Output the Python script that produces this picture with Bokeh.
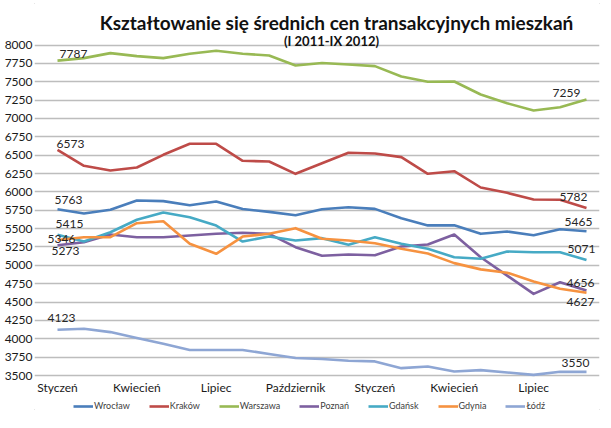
from bokeh.plotting import figure
from bokeh.models import Range1d, FixedTicker, Legend, LegendItem, Label, ColumnDataSource
from bokeh.core.properties import value
from bokeh.embed import file_html
from bokeh.resources import INLINE

# ---- data ----
months = ["Styczeń", "Luty", "Marzec", "Kwiecień", "Maj", "Czerwiec", "Lipiec",
          "Sierpień", "Wrzesień", "Październik", "Listopad", "Grudzień",
          "Styczeń", "Luty", "Marzec", "Kwiecień", "Maj", "Czerwiec", "Lipiec",
          "Sierpień", "Wrzesień"]
label_every = 3

wroclaw = [5763, 5706, 5756, 5883, 5874, 5819, 5869, 5767, 5728, 5683, 5764,
           5791, 5769, 5642, 5544, 5546, 5429, 5460, 5410, 5492, 5465]
krakow = [6573, 6355, 6291, 6332, 6505, 6655, 6655, 6423, 6414, 6246, 6390,
          6532, 6523, 6473, 6246, 6282, 6060, 5987, 5896, 5892, 5782]
warszawa = [7787, 7821, 7889, 7848, 7821, 7880, 7921, 7880, 7857, 7721, 7755,
            7734, 7712, 7571, 7499, 7503, 7326, 7207, 7108, 7153, 7259]
poznan = [5273, 5315, 5420, 5383, 5383, 5406, 5429, 5443, 5429, 5247, 5130,
          5147, 5138, 5256, 5284, 5420, 5110, 4860, 4612, 4770, 4656]
gdansk = [5415, 5324, 5451, 5620, 5719, 5655, 5542, 5324, 5392, 5338, 5370,
          5279, 5383, 5293, 5225, 5111, 5089, 5188, 5179, 5179, 5071]
gdynia = [5346, 5383, 5383, 5574, 5601, 5293, 5157, 5392, 5429, 5506, 5361,
          5338, 5301, 5225, 5160, 5030, 4945, 4900, 4780, 4680, 4627]
lodz = [4123, 4137, 4091, 4012, 3931, 3848, 3848, 3848, 3793, 3738, 3724,
        3701, 3692, 3600, 3623, 3555, 3573, 3541, 3509, 3550, 3550]

series_names = ["Wrocław", "Kraków", "Warszawa", "Poznań", "Gdańsk", "Gdynia", "Łódź"]
series_values = [wroclaw, krakow, warszawa, poznan, gdansk, gdynia, lodz]

y_min, y_max, y_step = 3500, 8000, 250
title_text = "Kształtowanie się średnich cen transakcyjnych mieszkań"
subtitle_text = "(I 2011-IX 2012)"

# ---- layout / styles ----
colors = ["#4A7EBB", "#BE4B48", "#98B954", "#7D60A0", "#46AAC5", "#F69240", "#8EA6D4"]
first_off = [(11, -9), (13, -6), (16, -7), (8, 6), (12, -11), (4, -1), (4, -12)]
last_off = [(-8, -9), (-13, -11), (-20, -6), (-6, -8), (-5, -11), (-6, 9), (-11, -9)]
FONT = "Lato"

FIG_W = 609
FRAME_TOP = 2          # px from top of figure
GRID_TOP = 44.5        # px where y_max sits
GRID_BOTTOM = 375      # px where y_min sits
FRAME_BOTTOM = 413     # frame extends below the axis to hold the legend
FRAME_LEFT, FRAME_RIGHT = 34, 599
FIRST_PX, LAST_PX = 57, 586

n = len(months)
xs = list(range(n))
px_per_unit = (GRID_BOTTOM - GRID_TOP) / (y_max - y_min)
y_top = y_max + (GRID_TOP - FRAME_TOP) / px_per_unit
y_bot = y_min - (FRAME_BOTTOM - GRID_BOTTOM) / px_per_unit
px_per_cat = (LAST_PX - FIRST_PX) / (n - 1)
x_start = -(FIRST_PX - FRAME_LEFT) / px_per_cat
x_end = (n - 1) + (FRAME_RIGHT - LAST_PX) / px_per_cat

p = figure(frame_width=FRAME_RIGHT - FRAME_LEFT, frame_height=FRAME_BOTTOM - FRAME_TOP,
           output_backend="svg", toolbar_location=None,
           x_range=Range1d(x_start, x_end), y_range=Range1d(y_bot, y_top),
           min_border_left=FRAME_LEFT, min_border_right=FIG_W - FRAME_RIGHT,
           min_border_top=FRAME_TOP, min_border_bottom=0)
p.outline_line_color = None
p.background_fill_color = "white"
p.border_fill_color = "white"
p.styles = {"outline": "1px solid #9a9a9a", "outline-offset": "-4px"}

p.xgrid.grid_line_color = None
p.ygrid.grid_line_color = "#bdbdbd"
p.ygrid.grid_line_width = 1.4
p.yaxis.ticker = FixedTicker(ticks=list(range(y_min, y_max + 1, y_step)))
p.yaxis.axis_line_color = None
p.yaxis.major_tick_line_color = None
p.yaxis.minor_tick_line_color = None
p.yaxis.major_tick_out = 0
p.yaxis.minor_tick_out = 0
p.yaxis.major_label_standoff = 2
p.yaxis.major_label_text_font = FONT
p.yaxis.major_label_text_font_size = "12px"
p.yaxis.major_label_text_color = "#1a1a1a"

tick_pos = list(range(0, n, label_every))
p.xaxis.fixed_location = y_min
p.xaxis.ticker = FixedTicker(ticks=tick_pos)
p.xaxis.major_label_overrides = {i: months[i] for i in tick_pos}
p.xaxis.axis_line_color = None
p.xaxis.major_tick_line_color = None
p.xaxis.minor_tick_line_color = None
p.xaxis.major_tick_out = 0
p.xaxis.minor_tick_out = 0
p.xaxis.major_tick_in = 0
p.xaxis.minor_tick_in = 0
p.xaxis.major_label_standoff = 4
p.xaxis.major_label_text_font = FONT
p.xaxis.major_label_text_font_size = "12px"
p.xaxis.major_label_text_color = "#1a1a1a"

items = []
for name, vals, c in zip(series_names, series_values, colors):
    r = p.line(xs, vals, line_color=c, line_width=2.6, line_join="round")
    items.append(LegendItem(label=name, renderers=[r]))

# first / last value labels
lx, ly, lt, ox, oy = [], [], [], [], []
for vals, fo, lo in zip(series_values, first_off, last_off):
    lx += [0, n - 1]
    ly += [vals[0], vals[-1]]
    lt += [str(vals[0]), str(vals[-1])]
    ox += [fo[0], lo[0]]
    oy += [fo[1], lo[1]]
src = ColumnDataSource(dict(x=lx, y=ly, t=lt, ox=ox, oy=oy))
p.text(x="x", y="y", text="t", x_offset="ox", y_offset="oy", source=src,
       text_align="center", text_baseline="middle",
       text_font=value(FONT), text_font_size="12px", text_color="#262626")

legend = Legend(items=items, orientation="horizontal", location=(73 - FRAME_LEFT, 2),
                label_text_font=FONT, label_text_font_size="9px",
                label_text_color="#404040", glyph_width=20, glyph_height=10,
                label_standoff=1, spacing=19, padding=0, margin=0,
                border_line_color=None, background_fill_alpha=0)
p.add_layout(legend, "center")

p.add_layout(Label(x=336 - FRAME_LEFT, y=FRAME_BOTTOM - 22, x_units="screen", y_units="screen",
                   text=title_text, text_align="center", text_baseline="middle",
                   text_font=FONT, text_font_size="19px", text_font_style="bold",
                   text_color="#111111"))
p.add_layout(Label(x=331 - FRAME_LEFT, y=FRAME_BOTTOM - 40, x_units="screen", y_units="screen",
                   text=subtitle_text, text_align="center", text_baseline="middle",
                   text_font=FONT, text_font_size="13px", text_font_style="bold",
                   text_color="#111111"))

open("out.html", "w").write(file_html(p, INLINE))
